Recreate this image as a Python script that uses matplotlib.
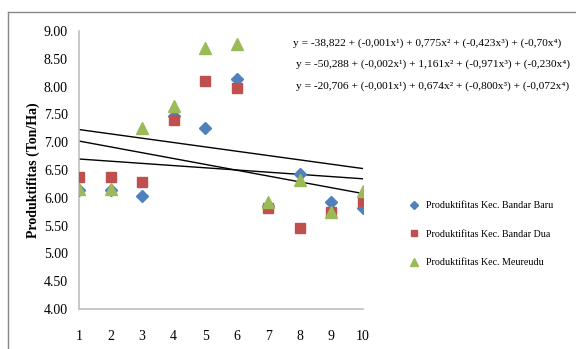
import numpy as np
import matplotlib.pyplot as plt
from matplotlib.lines import Line2D

plt.rcParams['font.family'] = ['Liberation Serif', 'DejaVu Serif']

# data
x = np.arange(1, 11)
bandar_baru = [6.14, 6.14, 6.03, 7.48, 7.26, 8.14, 5.85, 6.43, 5.92, 5.81]
bandar_dua = [6.38, 6.38, 6.28, 7.40, 8.10, 7.98, 5.82, 5.45, 5.75, 5.95]
meureudu = [6.15, 6.15, 7.25, 7.65, 8.70, 8.76, 5.92, 6.32, 5.75, 6.12]

labels = ["Produktifitas Kec. Bandar Baru",
          "Produktifitas Kec. Bandar Dua",
          "Produktifitas Kec. Meureudu"]
equations = [
    "y = -38,822 + (-0,001x\u00b9) + 0,775x\u00b2 + (-0,423x\u00b3) + (-0,70x\u2074)",
    "y = -50,288 + (-0,002x\u00b9) + 1,161x\u00b2 + (-0,971x\u00b3) + (-0,230x\u2074)",
    "y = -20,706 + (-0,001x\u00b9) + 0,674x\u00b2 + (-0,800x\u00b3) + (-0,072x\u2074)",
]
yticks = np.arange(4.0, 9.01, 0.5)

fig = plt.figure(figsize=(5.76, 3.49), dpi=100)
ax = fig.add_axes([0.1372, 0.1146, 0.4925, 0.7966])

series = [(bandar_baru, 'D', '#4F81BD', 6.5),
          (bandar_dua, 's', '#C0504D', 7.5),
          (meureudu, '^', '#9BBB59', 8.5)]
handles = []
for (vals, m, c, ms), lab in zip(series, labels):
    ax.plot(x, vals, linestyle='none', marker=m, color=c, ms=ms, zorder=3)
    handles.append(Line2D([], [], linestyle='none', marker=m, color=c,
                          ms=ms * 0.6, label=lab))

# linear trend lines
for vals, _, _, _ in series:
    k, b = np.polyfit(x, vals, 1)
    ax.plot(x, k * x + b, color='black', lw=1.0, zorder=2)

ax.set_xlim(1, 10)
ax.set_ylim(4, 9)
ax.set_xticks(x)
ax.set_yticks(yticks)
ax.set_yticklabels([f"{v:.2f}" for v in yticks])
ax.tick_params(length=0, labelsize=10)
ax.tick_params(axis='x', pad=15)
ax.tick_params(axis='y', pad=8)
for s in ['top', 'right']:
    ax.spines[s].set_visible(False)
for s in ['left', 'bottom']:
    ax.spines[s].set_color('#BFBFBF')
    ax.spines[s].set_linewidth(1.2)
ax.patch.set_alpha(0)

fig.text(0.057, 0.513, "Produktifitas (Ton/Ha)", rotation=90, fontsize=10,
         fontweight='bold', ha='center', va='center')

for i, eq in enumerate(equations):
    fig.text((293 if i == 0 else 296) / 576, 1 - (43 + 21.5 * i) / 349, eq,
             fontsize=8.2, ha='left', va='center')

fig.legend(handles=handles, loc='upper left', bbox_to_anchor=(0.700, 0.438),
           frameon=False, fontsize=7.2, labelspacing=1.95, handletextpad=0.55,
           handlelength=1.2, borderpad=0)

# outer frame (top and left edges)
fig.add_artist(Line2D([8 / 576, 1], [1 - 12 / 349, 1 - 12 / 349],
                      color='#888888', lw=1.0))
fig.add_artist(Line2D([8 / 576, 8 / 576], [0, 1 - 12 / 349],
                      color='#888888', lw=1.0))

fig.savefig('out.png', dpi=100)
